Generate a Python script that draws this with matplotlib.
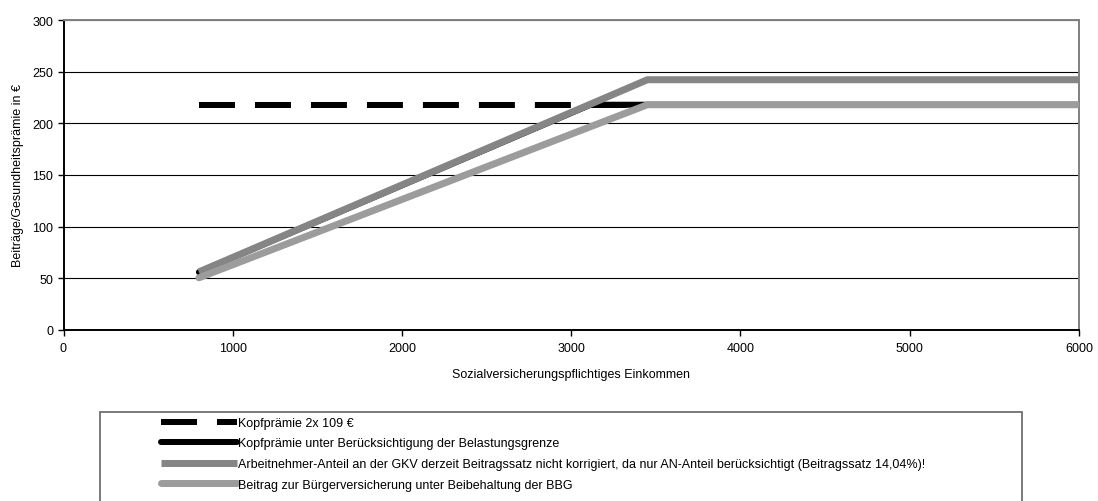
import matplotlib
matplotlib.use("Agg")
import matplotlib.pyplot as plt
from matplotlib.patches import Rectangle

plt.rcParams['font.family'] = ['Liberation Sans', 'DejaVu Sans']

# ---- data ----
income_kopf = [800, 6000]
kopf_2x109 = [218, 218]

income_belast = [800, 3114, 6000]
kopf_belast = [56, 218, 218]

income_an = [800, 3450, 6000]
an_anteil = [56.2, 242.2, 242.2]

income_bv = [800, 3450, 6000]
buergerv = [50.5, 218, 218]

labels = [
    "Kopfprämie 2x 109 €",
    "Kopfprämie unter Berücksichtigung der Belastungsgrenze",
    "Arbeitnehmer-Anteil an der GKV derzeit Beitragssatz nicht korrigiert, da nur AN-Anteil berücksichtigt (Beitragssatz 14,04%)!",
    "Beitrag zur Bürgerversicherung unter Beibehaltung der BBG",
]
xticks = [0, 1000, 2000, 3000, 4000, 5000, 6000]
yticks = [0, 50, 100, 150, 200, 250, 300]

W, H = 1098, 502
FS = 9
fig = plt.figure(figsize=(W / 100, H / 100), dpi=100)
ax = fig.add_axes([63.5 / W, 1 - 331 / H, (1079 - 63.5) / W, (331 - 21) / H])

px = 0.72  # points per pixel at 100 dpi
h1, = ax.plot(income_kopf, kopf_2x109, color='black', lw=6 * px,
              linestyle=(0, (6, 3.33)), dash_capstyle='butt', label=labels[0], zorder=3)
h2, = ax.plot(income_belast, kopf_belast, color='black', lw=6 * px,
              solid_capstyle='round', label=labels[1], zorder=4)
h3, = ax.plot(income_an, an_anteil, color='#858585', lw=7 * px,
              solid_capstyle='butt', label=labels[2], zorder=5)
h4, = ax.plot(income_bv, buergerv, color='#9c9c9c', lw=7 * px,
              solid_capstyle='round', label=labels[3], zorder=6)

ax.set_xlim(0, 6000)
ax.set_ylim(0, 300)
ax.set_xticks(xticks)
ax.set_yticks(yticks)
ax.tick_params(axis='both', labelsize=FS, direction='out', length=4, width=1, color='black')
ax.tick_params(axis='x', pad=5)
ax.grid(axis='y', color='black', lw=0.8, zorder=1)
ax.set_axisbelow(True)
for s in ['left', 'bottom']:
    ax.spines[s].set_color('black')
    ax.spines[s].set_linewidth(1.4)
for s in ['top', 'right']:
    ax.spines[s].set_color('#808080')
    ax.spines[s].set_linewidth(1.4)

ax.set_xlabel("Sozialversicherungspflichtiges Einkommen", fontsize=FS, labelpad=10)
ax.set_ylabel("Beiträge/Gesundheitsprämie in €", fontsize=FS, labelpad=6)

# legend box
fig.patches.append(Rectangle((100 / W, -0.05), (1022 - 100) / W, 0.05 + 1 - 413 / H,
                             transform=fig.transFigure, fill=False,
                             edgecolor='#707070', lw=1.3))
leg = fig.legend(handles=[h1, h2, h3, h4], labels=labels, loc='upper left',
                 bbox_to_anchor=(161 / W, 1 - 418 / H), frameon=False, fontsize=FS,
                 handlelength=6.1, handletextpad=0.05, labelspacing=0.68,
                 borderpad=0.0, borderaxespad=0)

fig.savefig("out.png", dpi=100)
